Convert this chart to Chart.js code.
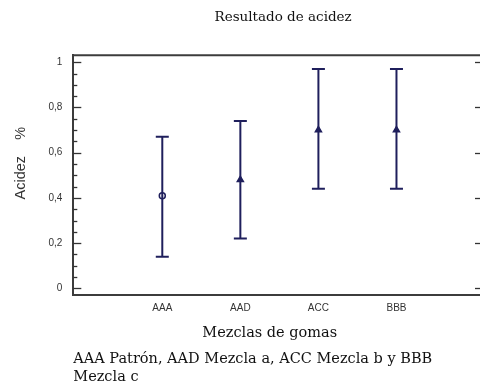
<!DOCTYPE html>
<html>
<head>
<meta charset="utf-8">
<style>
  html, body { margin: 0; padding: 0; background: #ffffff; }
  #wrap { width: 480px; height: 392px; }
</style>
<script src="https://cdn.jsdelivr.net/npm/chart.js@4/dist/chart.umd.min.js"></script>
</head>
<body>
<div id="wrap"><canvas id="c" width="480" height="392"></canvas></div>
<script>
// Acidity per rubber blend: mean with its interval
const categories = ['AAA', 'AAD', 'ACC', 'BBB'];
const means = [0.41, 0.48, 0.70, 0.70];
const lower = [0.14, 0.22, 0.44, 0.44];
const upper = [0.67, 0.74, 0.97, 0.97];
const markerStyles = ['circle', 'triangle', 'triangle', 'triangle'];
const yMajorTicks = [0, 0.2, 0.4, 0.6, 0.8, 1];
const yMinorStep = 0.05;

const navy = '#1f1f5c';
const frameColor = '#3c3c3c';
const sans = 'Liberation Sans, Arial, sans-serif';
const serif = 'DejaVu Serif, serif';

const isMajor = v => yMajorTicks.some(m => Math.abs(m - v) < 1e-6);
const fmtComma = v => String(Math.round(v * 10) / 10).replace('.', ',');

// Vertical interval lines: low and high point per category, broken by a gap
const intervalPoints = categories.flatMap((c, i) => [
  { x: i, y: lower[i] },
  { x: i, y: upper[i] },
  { x: i, y: null }
]);
const meanPoints = categories.map((c, i) => ({ x: i, y: means[i] }));

// Frame line on top plus inward tick marks on the value axis
const framePlugin = {
  id: 'frame',
  afterDraw(chart) {
    const { ctx, chartArea: a, scales: { y } } = chart;
    ctx.save();
    ctx.strokeStyle = frameColor;
    ctx.lineWidth = 2;
    ctx.beginPath();
    ctx.moveTo(a.left, a.top);
    ctx.lineTo(a.right, a.top);
    ctx.stroke();
    ctx.lineWidth = 1.3;
    ctx.strokeStyle = '#333';
    y.ticks.forEach(t => {
      const py = Math.round(y.getPixelForValue(t.value)) + 0.5;
      const len = isMajor(t.value) ? 8 : 4;
      ctx.beginPath();
      ctx.moveTo(a.left, py);
      ctx.lineTo(a.left + len, py);
      ctx.stroke();
      if (isMajor(t.value)) {
        ctx.beginPath();
        ctx.moveTo(a.right - 5, py);
        ctx.lineTo(a.right, py);
        ctx.stroke();
      }
    });
    ctx.restore();
  }
};

new Chart(document.getElementById('c'), {
  type: 'line',
  data: {
    datasets: [
      {
        label: 'Media',
        data: meanPoints,
        showLine: false,
        pointStyle: markerStyles,
        pointRadius: [3, 3.5, 3.5, 3.5],
        pointBorderWidth: 1.5,
        pointBorderColor: navy,
        pointBackgroundColor: markerStyles.map(s => s === 'circle' ? 'rgba(255,255,255,0)' : navy)
      },
      {
        label: 'Intervalo',
        data: intervalPoints,
        showLine: true,
        spanGaps: false,
        borderColor: navy,
        borderWidth: 2,
        pointStyle: 'line',
        pointRadius: 6.5,
        pointBorderWidth: 2,
        pointBorderColor: navy
      }
    ]
  },
  options: {
    responsive: false,
    animation: false,
    devicePixelRatio: 1,
    layout: { autoPadding: false, padding: { left: 0, right: 0, top: 0, bottom: 6 } },
    plugins: {
      legend: { display: false },
      tooltip: { enabled: false },
      title: {
        display: true,
        text: '   Resultado de acidez',
        fullSize: false,
        color: '#111',
        font: { family: serif, size: 13.5, weight: 'normal', lineHeight: 1.2 },
        padding: { top: 9, bottom: 30 }
      },
      subtitle: {
        display: true,
        position: 'bottom',
        align: 'start',
        fullSize: false,
        text: ['AAA Patrón, AAD Mezcla a, ACC Mezcla b y BBB', 'Mezcla c'],
        color: '#111',
        font: { family: serif, size: 14.5, weight: 'normal', lineHeight: 1.25 },
        padding: { top: 8, bottom: 0 }
      }
    },
    scales: {
      x: {
        type: 'linear',
        min: -1.14,
        max: 4.07,
        afterBuildTicks: axis => { axis.ticks = categories.map((c, i) => ({ value: i })); },
        ticks: {
          autoSkip: false,
          maxRotation: 0,
          padding: 7,
          color: '#333',
          font: { family: sans, size: 10 },
          callback: v => categories[v]
        },
        grid: { display: false, drawTicks: false },
        border: { display: true, color: frameColor, width: 2 },
        title: {
          display: true,
          text: 'Mezclas de gomas   ',
          color: '#111',
          font: { family: serif, size: 14.5, weight: 'normal', lineHeight: 1.2 },
          padding: { top: 3, bottom: 0 }
        }
      },
      y: {
        type: 'linear',
        min: -0.031,
        max: 1.031,
        afterBuildTicks: axis => {
          const n = Math.round(1 / yMinorStep);
          axis.ticks = Array.from({ length: n + 1 }, (_, k) => ({ value: k / n }));
        },
        ticks: {
          autoSkip: false,
          padding: 11,
          color: '#333',
          font: { family: sans, size: 10 },
          callback: v => isMajor(v) ? fmtComma(v) : ''
        },
        grid: { display: false, drawTicks: false },
        border: { display: true, color: frameColor, width: 2 },
        title: {
          display: true,
          text: '      Acidez    %',
          color: '#333',
          font: { family: sans, size: 14.5, lineHeight: 1.2 },
          padding: { top: 12, bottom: 8 }
        }
      }
    }
  },
  plugins: [framePlugin]
});
</script>
</body>
</html>
